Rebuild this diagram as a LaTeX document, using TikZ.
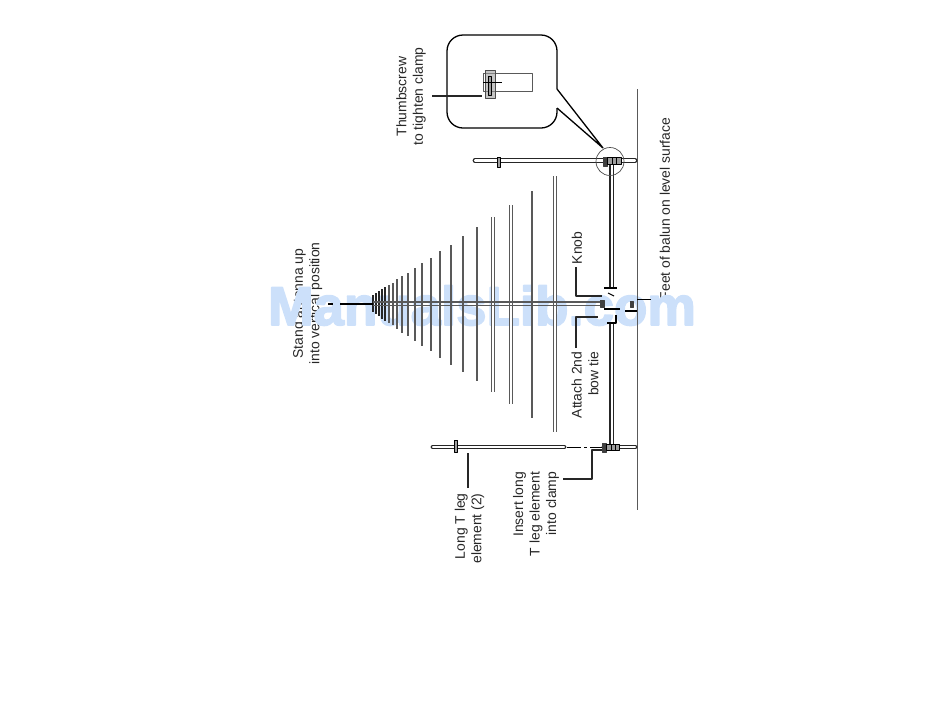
\documentclass[tikz,border=0pt]{standalone}
\usepackage{fontspec}
\setmainfont{Liberation Sans}
\newfontfamily\wmfont[BoldFeatures={FakeBold=3}]{Liberation Sans}
\definecolor{wmblue}{rgb}{0.8,0.878,0.98}
\definecolor{linegray}{rgb}{0.35,0.35,0.35}
\definecolor{clampgray}{rgb}{0.62,0.62,0.62}
\tikzset{
  label/.style={rotate=90,inner sep=0pt,text=black!85,font=\fontsize{13.9}{16.6}\selectfont},
  leader/.style={line width=1.4pt,color=black!85},
  rod/.style={line width=1.3pt,color=black!85,double=white,double distance=2.2pt,line cap=round},
  tube/.style={line width=1.1pt,color=linegray,double=white,double distance=1.1pt},
  element/.style={line width=1.7pt,color=linegray},
  tipelement/.style={line width=2.6pt,color=black!85},
  hardware/.style={fill=black!75,draw=black!75}
}
\begin{document}
\begin{tikzpicture}[line cap=butt,line join=round,x=1pt,y=-1pt]
	\useasboundingbox (0,0) rectangle (950,716);
	% labels, under the watermark
	\node [label,align=center] (standlabel) at (307.5,303.5) {Stand antenna up\\into vertical position};
	\node [label,align=center] (thumblabel) at (411,96.5) {Thumbscrew\\to tighten clamp};
	\node [label,align=right] (longlabel) at (469.5,528.5) {Long T leg\\element (2)};
	\node [label,align=right] (insertlabel) at (536,514) {Insert long\\T leg element\\into clamp};
	\node [label,align=right] (attachlabel) at (585,385) {Attach 2nd\\bow tie};
	\node [label] (knoblabel) at (577,248) {Knob};
	\node [label] (feetlabel) at (665,209) {Feet of balun on level surface};
	% watermark
	\node [inner sep=0pt,anchor=base,color=wmblue,font=\fontsize{54.6}{60}\wmfont\bfseries] (watermark) at (482,325) {ManualsLib.com};
	% ground line
	\draw [line width=1pt,color=linegray] (637,89) -- (637,510);
	% elements
	\draw [tube] (555,176) -- (555,432);
	\draw [element] (532,191) -- (532,418);
	\draw [tube] (511,205) -- (511,404);
	\draw [tube] (493,217) -- (493,392);
	\draw [element] (477,227) -- (477,381);
	\draw [element] (463,236) -- (463,372);
	\draw [element] (451,245) -- (451,365);
	\draw [element] (440,251) -- (440,358);
	\draw [element] (431,258) -- (431,351);
	\draw [element] (422,263) -- (422,346);
	\draw [element] (415,268) -- (415,341);
	\draw [element] (408,273) -- (408,336);
	\draw [element] (402,276) -- (402,333);
	\draw [element] (397,279) -- (397,329);
	\draw [element] (393,283) -- (393,325);
	\draw [element] (389,285) -- (389,323);
	\draw [tipelement] (385,287) -- (385,321);
	\draw [tipelement] (382,289) -- (382,319);
	\draw [tipelement] (379,291) -- (379,316);
	\draw [tipelement] (376,293) -- (376,314);
	\draw [tipelement] (373,295) -- (373,312);
	% mast
	\draw [line width=1.3pt,color=linegray] (373,302) -- (600,302) (373,305.5) -- (600,305.5);
	\draw [line width=1.4pt] (340,304) -- (373,304);
	\draw [line width=1.4pt] (328,304) -- (333,304);
	% booms
	\draw [line width=1.5pt,color=black!85] (610,165) -- (610,288) (613.5,165) -- (613.5,288);
	\draw [line width=1.5pt,color=black!85] (610,323) -- (610,445) (613.5,323) -- (613.5,445);
	\draw [line width=1.1pt] (604,288) -- (617,288);
	\draw [line width=1.1pt] (607,323) -- (616,323) -- (616,315);
	% T legs
	\draw [rod] (475,160.5) -- (635,160.5);
	\draw [rod] (433,447) -- (564,447);
	\draw [rod] (604,447) -- (635,447);
	\draw [line width=0.9pt,dash pattern=on 14pt off 3pt on 3pt off 3pt] (567,447) -- (602,447);
	% small clamps on the legs
	\draw [line width=0.8pt,fill=clampgray] (497.5,157) rectangle (500.5,167);
	\draw [line width=0.8pt,fill=clampgray] (454.5,440) rectangle (457.5,452);
	% hardware at the feet
	\fill [hardware] (603,157) rectangle (607,166);
	\draw [line width=0.8pt,fill=clampgray] (607,157.5) rectangle (621,164);
	\draw [line width=0.8pt] (612,157.5) -- (612,164) (616,157.5) -- (616,164);
	\fill [hardware] (602,443) rectangle (606,452);
	\draw [line width=0.8pt,fill=clampgray] (606,444) rectangle (619,450.5);
	\draw [line width=0.8pt] (611,444) -- (611,450.5) (615,444) -- (615,450.5);
	\fill [hardware] (600,300) rectangle (604,307);
	\fill [hardware] (630,301) rectangle (633,307);
	\draw [line width=1.1pt] (604,309) -- (620,309) (625,311) -- (637,311);
	\draw [line width=1.1pt] (608,293) -- (614,296);
	\draw [line width=1pt] (637,299) -- (651,299);
	% circle and callout
	\node [circle,draw=black!70,line width=0.7pt,minimum size=28pt,inner sep=0pt] (footcircle) at (610,161.5) {};
	\coordinate (tailtip) at (603,148);
	\draw [line width=1.3pt,rounded corners=16pt] (557,89) -- (557,35) -- (447,35) -- (447,128) -- (557,128) -- (557,108);
	\draw [line width=1.3pt] (557,89) -- (tailtip) -- (557,108);
	% inset clamp
	\draw [line width=0.7pt,color=linegray] (483,73) rectangle (532,91);
	\draw [line width=0.7pt,color=black!70,fill=clampgray,fill opacity=0.6] (485,70) rectangle (495,98);
	\draw [line width=0.8pt,fill=clampgray] (488,76) rectangle (491,95);
	\draw [line width=0.8pt] (483,82) -- (502,82);
	% leaders
	\coordinate (thumbend) at (482,96);
	\coordinate (longend) at (468,453);
	\coordinate (insertend) at (602,450);
	\coordinate (knobend) at (602,296);
	\coordinate (attachend) at (598,317);
	\draw [leader] (432,96) -- (thumbend);
	\draw [leader] (468,488) -- (longend);
	\draw [leader] (563,479) -- (592,479) -- (592,450) -- (insertend);
	\draw [leader] (576,267) -- (576,296) -- (knobend);
	\draw [leader] (576,348) -- (576,317) -- (attachend);
\end{tikzpicture}
\end{document}
